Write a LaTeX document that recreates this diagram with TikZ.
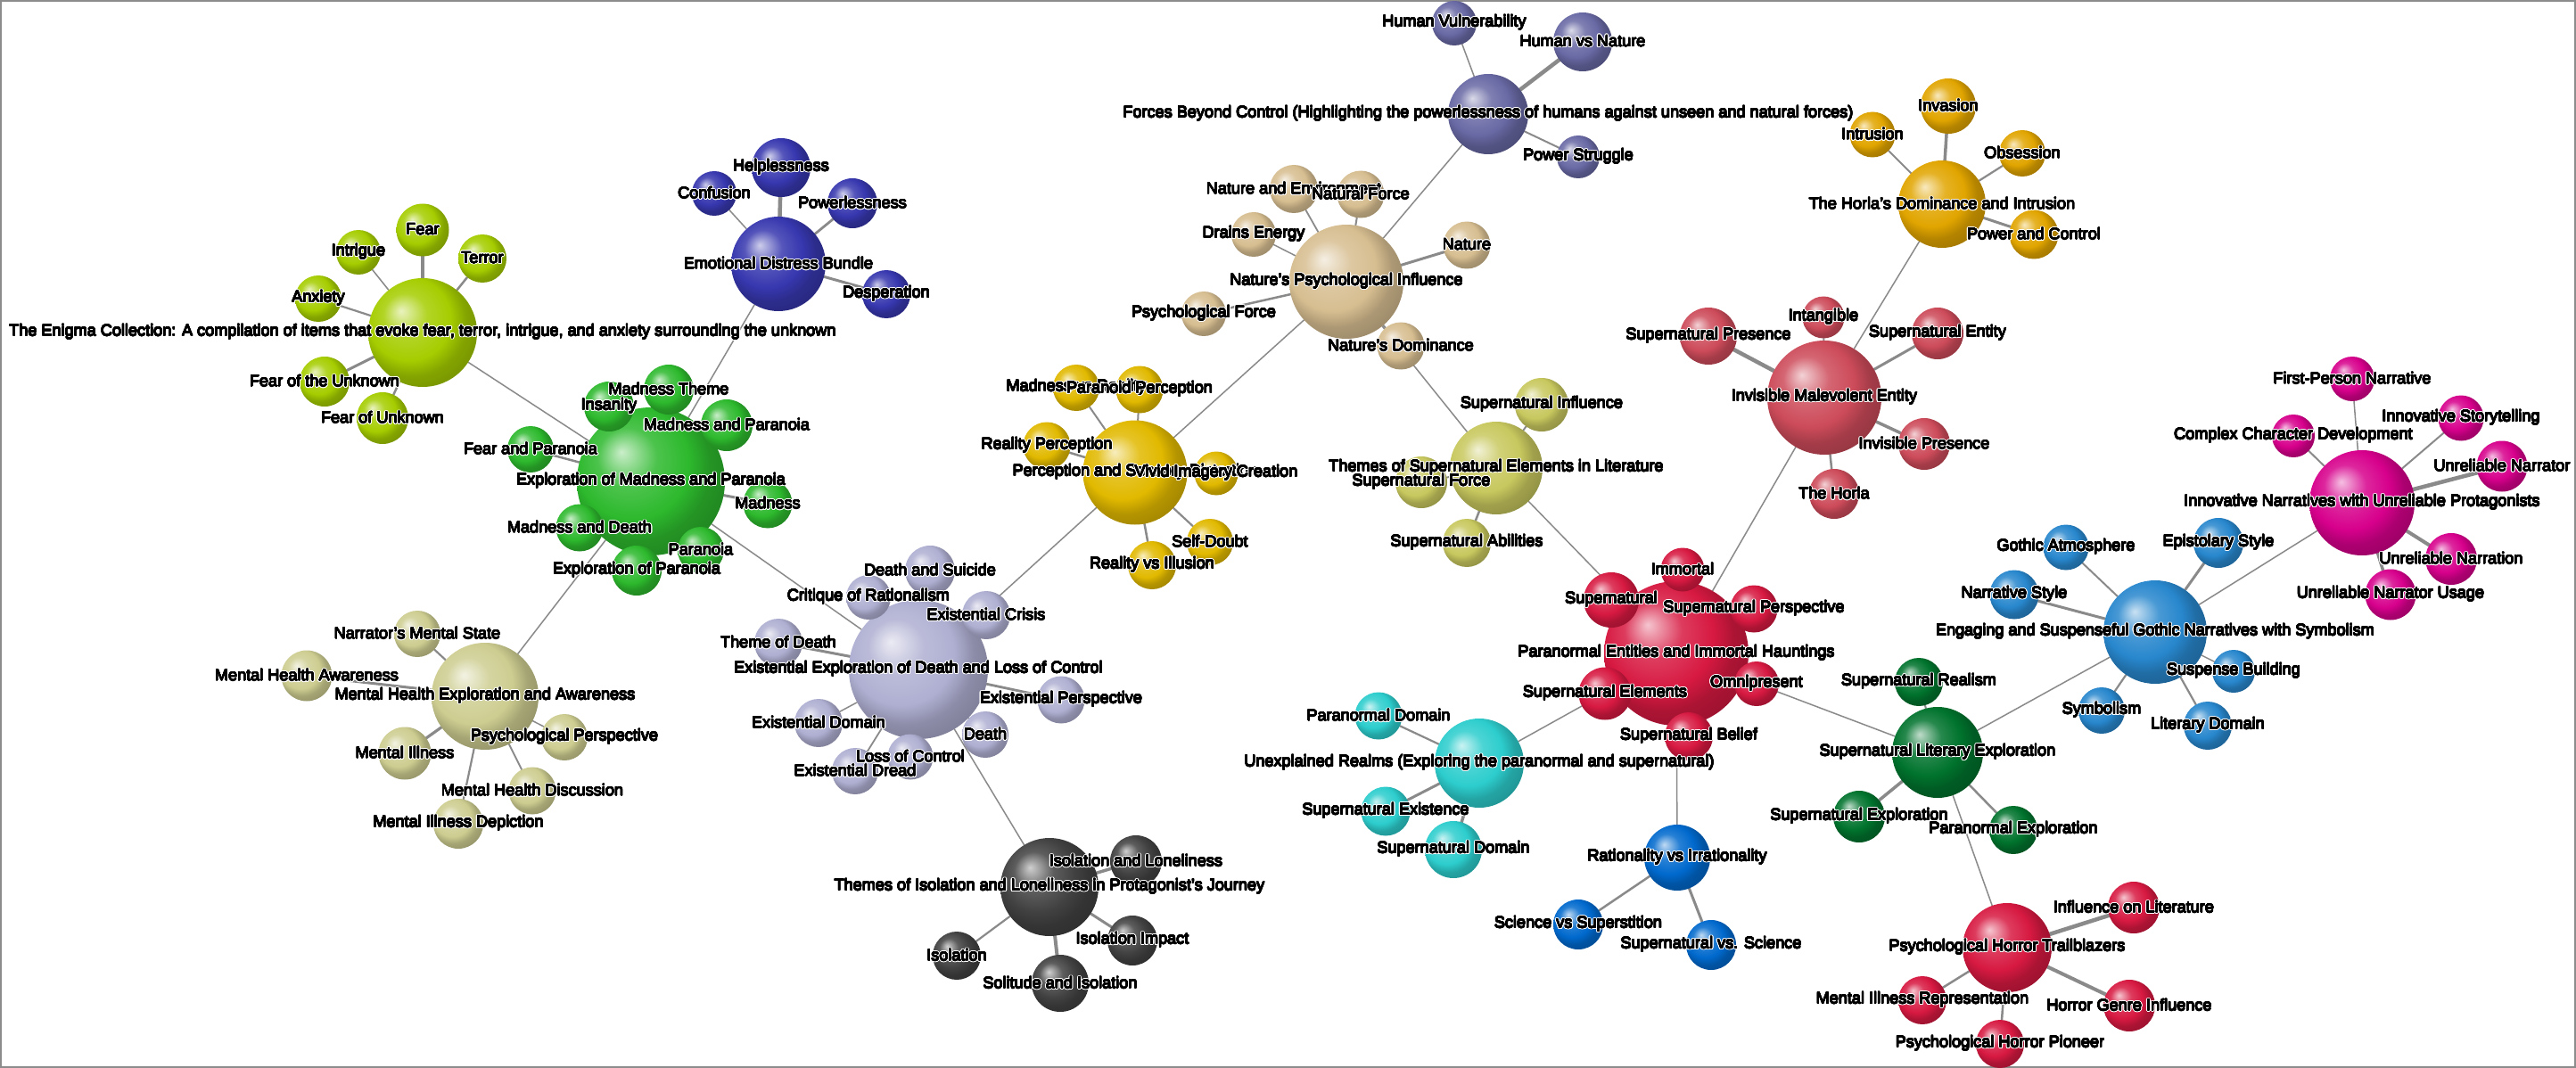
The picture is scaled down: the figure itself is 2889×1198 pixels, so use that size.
\documentclass[tikz,border=0pt]{standalone}
\usepackage{fontspec}
\setmainfont{Liberation Sans}
\usepackage{contour}
\contourlength{1.6pt}
\newcommand{\halo}[1]{\rlap{\contour{white}{#1}}{\contourlength{0.35pt}\contour{black}{#1}}}

\pgfdeclarelayer{back}
\pgfdeclarelayer{front}
\pgfsetlayers{back,main,front}

\definecolor{cLime}{RGB}{165,205,0}
\definecolor{cGreen}{RGB}{45,185,45}
\definecolor{cNavy}{RGB}{55,55,175}
\definecolor{cTan}{RGB}{215,190,145}
\definecolor{cSlate}{RGB}{105,105,165}
\definecolor{cGold}{RGB}{225,165,0}
\definecolor{cRose}{RGB}{205,75,90}
\definecolor{cOlive}{RGB}{200,200,95}
\definecolor{cCrimson}{RGB}{215,25,65}
\definecolor{cAqua}{RGB}{45,205,205}
\definecolor{cBlue}{RGB}{0,105,205}
\definecolor{cForest}{RGB}{0,115,45}
\definecolor{cSky}{RGB}{40,135,205}
\definecolor{cMagenta}{RGB}{215,0,140}
\definecolor{cYellow}{RGB}{225,185,0}
\definecolor{cLavender}{RGB}{175,175,210}
\definecolor{cCharcoal}{RGB}{65,65,65}
\definecolor{cKhaki}{RGB}{205,205,145}
\definecolor{linkgray}{RGB}{138,138,138}

\colorlet{orbc}{gray}
\pgfdeclareradialshading[orbc]{orb}{\pgfqpoint{-10bp}{10bp}}{%
  color(0bp)=(orbc!25!white); color(10bp)=(orbc!85!white);
  color(19bp)=(orbc); color(25bp)=(orbc!80!black); color(50bp)=(orbc!50!black)}

\tikzset{
  orb/.style={circle, inner sep=0pt, minimum size=#1, shade, shading=orb},
  tint/.code={\colorlet{orbc}{#1}},
  lbl/.style={inner sep=0pt, font=\fontsize{18.1}{20}\selectfont},
  lk/.style={draw=linkgray, line cap=round},
}

\begin{document}
\begin{tikzpicture}[x=1pt, y=-1pt]
    \useasboundingbox (0,0) rectangle (2889,1198);
    \draw[gray!90, line width=2pt] (1,1) rectangle (2888,1197);

    % Enigma Collection
    \node[tint=cLime, orb=122pt] (enigma) at (474,373) {};
    \node[tint=cLime, orb=59pt] (fear) at (474,258) {};
    \node[tint=cLime, orb=50pt] (intrigue) at (402,283) {};
    \node[tint=cLime, orb=54pt] (terror) at (541,290) {};
    \node[tint=cLime, orb=52pt] (anxiety) at (357,335) {};
    \node[tint=cLime, orb=56pt] (fotu) at (364,428) {};
    \node[tint=cLime, orb=58pt] (fou) at (429,469) {};

    % Madness and Paranoia
    \node[tint=cGreen, orb=166pt] (madpar) at (730,540) {};
    \node[tint=cGreen, orb=56pt] (madtheme) at (750,437) {};
    \node[tint=cGreen, orb=56pt] (insanity) at (683,456) {};
    \node[tint=cGreen, orb=58pt] (madandpar) at (815,477) {};
    \node[tint=cGreen, orb=55pt] (madness) at (861,565) {};
    \node[tint=cGreen, orb=52pt] (paranoia) at (786,617) {};
    \node[tint=cGreen, orb=56pt] (explpar) at (714,640) {};
    \node[tint=cGreen, orb=53pt] (maddeath) at (650,592) {};
    \node[tint=cGreen, orb=52pt] (fearpar) at (595,504) {};

    % Emotional distress
    \node[tint=cNavy, orb=106pt] (edb) at (873,296) {};
    \node[tint=cNavy, orb=66pt] (helpless) at (876,188) {};
    \node[tint=cNavy, orb=50pt] (confusion) at (801,217) {};
    \node[tint=cNavy, orb=56pt] (powerless) at (956,228) {};
    \node[tint=cNavy, orb=54pt] (desper) at (994,330) {};

    % Mental health
    \node[tint=cKhaki, orb=120pt] (mhe) at (544,781) {};
    \node[tint=cKhaki, orb=52pt] (narrstate) at (468,711) {};
    \node[tint=cKhaki, orb=57pt] (mhaware) at (344,758) {};
    \node[tint=cKhaki, orb=59pt] (mentill) at (454,845) {};
    \node[tint=cKhaki, orb=52pt] (psyper) at (633,827) {};
    \node[tint=cKhaki, orb=53pt] (mhdisc) at (597,887) {};
    \node[tint=cKhaki, orb=56pt] (mhdepict) at (514,924) {};

    % Existential exploration
    \node[tint=cLavender, orb=156pt] (exist) at (1030,751) {};
    \node[tint=cLavender, orb=56pt] (deathsuic) at (1043,640) {};
    \node[tint=cLavender, orb=50pt] (critique) at (974,670) {};
    \node[tint=cLavender, orb=54pt] (excrisis) at (1106,690) {};
    \node[tint=cLavender, orb=54pt] (themedeath) at (873,721) {};
    \node[tint=cLavender, orb=53pt] (exper) at (1190,785) {};
    \node[tint=cLavender, orb=54pt] (exdomain) at (918,811) {};
    \node[tint=cLavender, orb=52pt] (death) at (1105,824) {};
    \node[tint=cLavender, orb=51pt] (lossctrl) at (1021,849) {};
    \node[tint=cLavender, orb=52pt] (exdread) at (959,865) {};

    % Isolation
    \node[tint=cCharcoal, orb=110pt] (isol) at (1177,995) {};
    \node[tint=cCharcoal, orb=58pt] (isolone) at (1274,966) {};
    \node[tint=cCharcoal, orb=56pt] (isoimp) at (1270,1055) {};
    \node[tint=cCharcoal, orb=54pt] (isolation) at (1073,1072) {};
    \node[tint=cCharcoal, orb=64pt] (solitude) at (1189,1103) {};

    % Perception
    \node[tint=cYellow, orb=117pt] (percep) at (1273,530) {};
    \node[tint=cYellow, orb=52pt] (madvsreal) at (1207,435) {};
    \node[tint=cYellow, orb=53pt] (pperc) at (1278,437) {};
    \node[tint=cYellow, orb=53pt] (realperc) at (1174,500) {};
    \node[tint=cYellow, orb=49pt] (vivid) at (1364,531) {};
    \node[tint=cYellow, orb=52pt] (selfdoubt) at (1357,608) {};
    \node[tint=cYellow, orb=54pt] (realill) at (1292,634) {};

    % Nature
    \node[tint=cTan, orb=128pt] (npi) at (1510,316) {};
    \node[tint=cTan, orb=54pt] (natenv) at (1451,212) {};
    \node[tint=cTan, orb=53pt] (natforce) at (1526,218) {};
    \node[tint=cTan, orb=50pt] (drains) at (1406,263) {};
    \node[tint=cTan, orb=53pt] (nature) at (1645,275) {};
    \node[tint=cTan, orb=50pt] (psyforce) at (1350,352) {};
    \node[tint=cTan, orb=53pt] (natdom) at (1571,388) {};

    % Forces beyond control
    \node[tint=cSlate, orb=90pt] (forces) at (1669,128) {};
    \node[tint=cSlate, orb=50pt] (humvul) at (1631,26) {};
    \node[tint=cSlate, orb=66pt] (humnat) at (1775,47) {};
    \node[tint=cSlate, orb=48pt] (powstr) at (1770,176) {};

    % Horla's dominance
    \node[tint=cGold, orb=98pt] (horlas) at (2178,229) {};
    \node[tint=cGold, orb=51pt] (intrusion) at (2100,151) {};
    \node[tint=cGold, orb=62pt] (invasion) at (2185,119) {};
    \node[tint=cGold, orb=52pt] (obsession) at (2268,172) {};
    \node[tint=cGold, orb=55pt] (powctrl) at (2281,263) {};

    % Invisible entity
    \node[tint=cRose, orb=128pt] (ime) at (2046,446) {};
    \node[tint=cRose, orb=64pt] (suppres) at (1916,377) {};
    \node[tint=cRose, orb=47pt] (intang) at (2045,356) {};
    \node[tint=cRose, orb=58pt] (supent) at (2173,374) {};
    \node[tint=cRose, orb=58pt] (invpres) at (2158,498) {};
    \node[tint=cRose, orb=56pt] (horla) at (2057,554) {};

    % Supernatural themes
    \node[tint=cOlive, orb=104pt] (themes) at (1678,525) {};
    \node[tint=cOlive, orb=60pt] (supinf) at (1729,454) {};
    \node[tint=cOlive, orb=58pt] (supforce) at (1594,541) {};
    \node[tint=cOlive, orb=54pt] (supabil) at (1645,609) {};

    % Paranormal entities
    \node[tint=cCrimson, orb=162pt] (paraent) at (1880,733) {};
    \node[tint=cCrimson, orb=49pt] (immortal) at (1887,639) {};
    \node[tint=cCrimson, orb=62pt] (supernat) at (1807,673) {};
    \node[tint=cCrimson, orb=53pt] (supersp) at (1967,683) {};
    \node[tint=cCrimson, orb=50pt] (omni) at (1970,767) {};
    \node[tint=cCrimson, orb=59pt] (supelem) at (1800,778) {};
    \node[tint=cCrimson, orb=54pt] (supbelief) at (1894,826) {};

    % Unexplained realms
    \node[tint=cAqua, orb=100pt] (unexpl) at (1659,856) {};
    \node[tint=cAqua, orb=53pt] (paradom) at (1546,803) {};
    \node[tint=cAqua, orb=55pt] (supexist) at (1554,910) {};
    \node[tint=cAqua, orb=64pt] (supdom) at (1630,953) {};

    % Rationality
    \node[tint=cBlue, orb=74pt] (ration) at (1881,962) {};
    \node[tint=cBlue, orb=56pt] (scisup) at (1770,1037) {};
    \node[tint=cBlue, orb=56pt] (supsci) at (1919,1060) {};

    % Supernatural literary exploration
    \node[tint=cForest, orb=102pt] (suplit) at (2173,844) {};
    \node[tint=cForest, orb=54pt] (suprealism) at (2152,765) {};
    \node[tint=cForest, orb=58pt] (supexpl) at (2085,916) {};
    \node[tint=cForest, orb=54pt] (paraexpl) at (2258,931) {};

    % Horror trailblazers
    \node[tint=cCrimson, orb=100pt] (pht) at (2251,1063) {};
    \node[tint=cCrimson, orb=58pt] (inflit) at (2393,1018) {};
    \node[tint=cCrimson, orb=58pt] (horrgenre) at (2388,1128) {};
    \node[tint=cCrimson, orb=54pt] (pioneer) at (2243,1171) {};
    \node[tint=cCrimson, orb=54pt] (mentrep) at (2156,1122) {};

    % Gothic narratives
    \node[tint=cSky, orb=116pt] (gothic) at (2417,709) {};
    \node[tint=cSky, orb=51pt] (gothatm) at (2317,614) {};
    \node[tint=cSky, orb=56pt] (epist) at (2488,609) {};
    \node[tint=cSky, orb=55pt] (narrstyle) at (2259,667) {};
    \node[tint=cSky, orb=48pt] (suspense) at (2505,753) {};
    \node[tint=cSky, orb=52pt] (symbolism) at (2357,797) {};
    \node[tint=cSky, orb=54pt] (litdomain) at (2476,814) {};

    % Unreliable protagonists
    \node[tint=cMagenta, orb=118pt] (innov) at (2649,564) {};
    \node[tint=cMagenta, orb=50pt] (firstp) at (2638,425) {};
    \node[tint=cMagenta, orb=48pt] (complex) at (2572,489) {};
    \node[tint=cMagenta, orb=51pt] (innstory) at (2760,469) {};
    \node[tint=cMagenta, orb=57pt] (unrelnarr) at (2806,523) {};
    \node[tint=cMagenta, orb=58pt] (unrelnarra) at (2749,627) {};
    \node[tint=cMagenta, orb=57pt] (unrelusage) at (2681,667) {};

    % Liens
    \begin{pgfonlayer}{back}
    \foreach \a/\b in {enigma/madpar, edb/madpar, madpar/mhe, madpar/exist, exist/percep,
        exist/isol, percep/npi, npi/forces, npi/themes, themes/paraent, paraent/ime,
        ime/horlas, paraent/unexpl, paraent/ration, paraent/suplit, suplit/gothic,
        suplit/pht, gothic/innov}
        \draw[lk, line width=1.5pt] (\a) -- (\b);
    \foreach \hub/\leaf/\w in {enigma/fear/3.5, enigma/intrigue/1.5, enigma/terror/2.5,
        enigma/anxiety/2.2, enigma/fotu/3, enigma/fou/2.5,
        madpar/madtheme/2, madpar/insanity/2, madpar/madandpar/2, madpar/madness/3,
        madpar/paranoia/2, madpar/explpar/2, madpar/maddeath/2, madpar/fearpar/2.5,
        edb/helpless/4.5, edb/confusion/1.5, edb/powerless/2.8, edb/desper/3,
        mhe/narrstate/2.2, mhe/mhaware/3, mhe/mentill/3.2, mhe/psyper/1.5,
        mhe/mhdisc/2, mhe/mhdepict/2.2,
        exist/deathsuic/1.5, exist/critique/1.5, exist/excrisis/1.5, exist/themedeath/3,
        exist/exper/2.8, exist/exdomain/1.5, exist/death/1.5, exist/lossctrl/1.5,
        exist/exdread/1.8,
        isol/isolone/3.5, isol/isoimp/3, isol/isolation/2.2, isol/solitude/4,
        percep/madvsreal/2, percep/pperc/2, percep/realperc/2.5, percep/vivid/2,
        percep/selfdoubt/2.2, percep/realill/2.5,
        npi/natenv/1.8, npi/natforce/2, npi/drains/1.5, npi/nature/3, npi/psyforce/2.5,
        npi/natdom/2,
        forces/humvul/1.5, forces/humnat/4.5, forces/powstr/2,
        horlas/intrusion/2, horlas/invasion/3.5, horlas/obsession/2.2, horlas/powctrl/3,
        ime/suppres/4.5, ime/intang/2, ime/supent/3, ime/invpres/3.5, ime/horla/2.5,
        themes/supinf/2, themes/supforce/2, themes/supabil/2.5,
        paraent/immortal/2, paraent/supernat/2, paraent/supersp/2, paraent/omni/2,
        paraent/supelem/2, paraent/supbelief/2,
        unexpl/paradom/2.2, unexpl/supexist/3, unexpl/supdom/3.5,
        ration/scisup/2.5, ration/supsci/3,
        suplit/suprealism/2, suplit/supexpl/3.5, suplit/paraexpl/2.5,
        pht/inflit/4.5, pht/horrgenre/4, pht/pioneer/2.5, pht/mentrep/2.5,
        gothic/gothatm/2, gothic/epist/3, gothic/narrstyle/3, gothic/suspense/1.5,
        gothic/symbolism/2.2, gothic/litdomain/2.2,
        innov/firstp/1.5, innov/complex/2, innov/innstory/2, innov/unrelnarr/4.5,
        innov/unrelnarra/4, innov/unrelusage/3.5}
        \draw[lk, line width=\w pt] (\hub) -- (\leaf);
    \end{pgfonlayer}

    % Textes
    \begin{pgfonlayer}{front}
    \foreach \n/\t in {
        enigma/{The Enigma Collection: A compilation of items that evoke fear, terror, intrigue, and anxiety surrounding the unknown},
        fear/Fear, intrigue/Intrigue, terror/Terror, anxiety/Anxiety,
        fotu/Fear of the Unknown, fou/Fear of Unknown,
        madpar/Exploration of Madness and Paranoia, madtheme/Madness Theme,
        insanity/Insanity, madandpar/Madness and Paranoia, madness/Madness,
        paranoia/Paranoia, explpar/Exploration of Paranoia, maddeath/Madness and Death,
        fearpar/Fear and Paranoia,
        edb/Emotional Distress Bundle, helpless/Helplessness, confusion/Confusion,
        powerless/Powerlessness, desper/Desperation,
        mhe/Mental Health Exploration and Awareness, narrstate/Narrator's Mental State,
        mhaware/Mental Health Awareness, mentill/Mental Illness,
        psyper/Psychological Perspective, mhdisc/Mental Health Discussion,
        mhdepict/Mental Illness Depiction,
        exist/Existential Exploration of Death and Loss of Control,
        deathsuic/Death and Suicide, critique/Critique of Rationalism,
        excrisis/Existential Crisis, themedeath/Theme of Death,
        exper/Existential Perspective, exdomain/Existential Domain, death/Death,
        lossctrl/Loss of Control, exdread/Existential Dread,
        isol/Themes of Isolation and Loneliness in Protagonist's Journey,
        isolone/Isolation and Loneliness, isoimp/Isolation Impact,
        isolation/Isolation, solitude/Solitude and Isolation,
        percep/Perception and Sensory Distortion, madvsreal/Madness vs Reality,
        pperc/Paranoid Perception, realperc/Reality Perception,
        vivid/Vivid Imagery Creation, selfdoubt/Self-Doubt, realill/Reality vs Illusion,
        npi/Nature's Psychological Influence, natenv/Nature and Environment,
        natforce/Natural Force, drains/Drains Energy, nature/Nature,
        psyforce/Psychological Force, natdom/Nature's Dominance,
        forces/{Forces Beyond Control (Highlighting the powerlessness of humans against unseen and natural forces)},
        humvul/Human Vulnerability, humnat/Human vs Nature, powstr/Power Struggle,
        horlas/The Horla's Dominance and Intrusion, intrusion/Intrusion,
        invasion/Invasion, obsession/Obsession, powctrl/Power and Control,
        ime/Invisible Malevolent Entity, suppres/Supernatural Presence,
        intang/Intangible, supent/Supernatural Entity, invpres/Invisible Presence,
        horla/The Horla,
        themes/Themes of Supernatural Elements in Literature,
        supinf/Supernatural Influence, supforce/Supernatural Force,
        supabil/Supernatural Abilities,
        paraent/Paranormal Entities and Immortal Hauntings, immortal/Immortal,
        supernat/Supernatural, supersp/Supernatural Perspective, omni/Omnipresent,
        supelem/Supernatural Elements, supbelief/Supernatural Belief,
        unexpl/{Unexplained Realms (Exploring the paranormal and supernatural)},
        paradom/Paranormal Domain, supexist/Supernatural Existence,
        supdom/Supernatural Domain,
        ration/Rationality vs Irrationality, scisup/Science vs Superstition,
        supsci/Supernatural vs. Science,
        suplit/Supernatural Literary Exploration, suprealism/Supernatural Realism,
        supexpl/Supernatural Exploration, paraexpl/Paranormal Exploration,
        pht/Psychological Horror Trailblazers, inflit/Influence on Literature,
        horrgenre/Horror Genre Influence, pioneer/Psychological Horror Pioneer,
        mentrep/Mental Illness Representation,
        gothic/Engaging and Suspenseful Gothic Narratives with Symbolism,
        gothatm/Gothic Atmosphere, epist/Epistolary Style, narrstyle/Narrative Style,
        suspense/Suspense Building, symbolism/Symbolism, litdomain/Literary Domain,
        innov/Innovative Narratives with Unreliable Protagonists,
        firstp/First-Person Narrative, complex/Complex Character Development,
        innstory/Innovative Storytelling, unrelnarr/Unreliable Narrator,
        unrelnarra/Unreliable Narration, unrelusage/Unreliable Narrator Usage}
        \node[lbl] at (\n) {\halo{\t}};
    \end{pgfonlayer}
\end{tikzpicture}
\end{document}
